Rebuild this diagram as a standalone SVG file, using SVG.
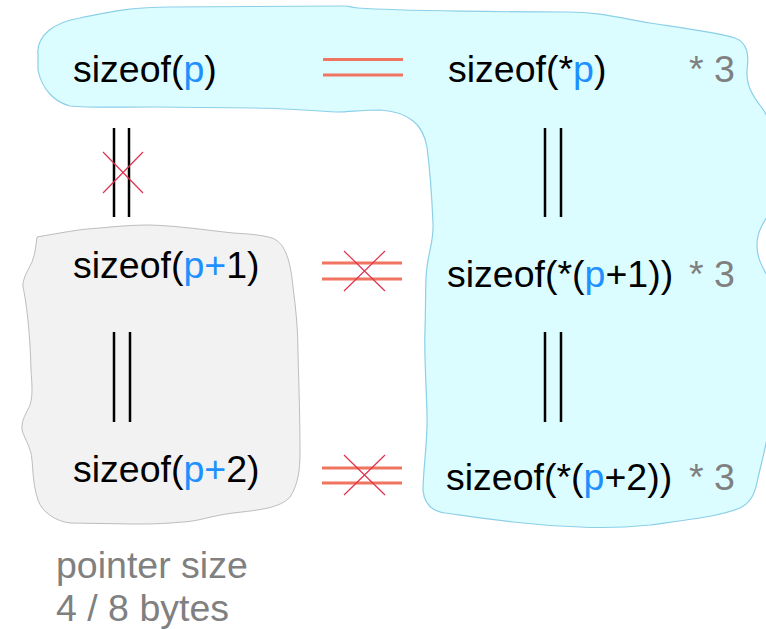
<svg xmlns="http://www.w3.org/2000/svg" width="766" height="629" viewBox="0 0 766 629">
<style>
text{font-family:"Liberation Sans",Arial,sans-serif;font-size:37.5px;fill:#000}
.b{fill:#1e90ff}
.g{fill:#808080}
.eq{stroke:#f07561;stroke-width:3;fill:none}
.vv{stroke:#000;stroke-width:2.5;fill:none}
.x{stroke:#e0304e;stroke-width:1.2;fill:none}
</style>
<rect width="766" height="629" fill="#fff"/>
<g id="region-array">
<path d="M 38,55 C 36,35 55,22 80,18 C 110,12 130,7 170,7 L 345,6 C 350,6 352,8 358,8 C 400,11 520,12 567,12 C 600,12 620,18 650,23 C 690,29 720,33 735,38 C 748,43 749,55 747,70 C 746,85 752,95 762,108 C 770,118 772,130 772,160 L 772,210 C 765,220 757,230 757,245 C 757,262 766,272 772,285 L 772,410 C 768,440 762,460 758,478 C 755,495 750,503 740,508 C 720,516 700,518 650,525 C 620,528 600,528 580,527 C 550,526 530,524 513,522 C 480,518 460,515 445,513 C 430,511 424,502 423,490 C 423,470 428,440 427,413 C 426,380 424,350 425,330 C 426,300 425,280 427,267 C 429,250 434,240 433,223 C 432,200 430,170 427,147 C 423,125 410,112 380,110 C 360,110 350,112 337,112 C 300,110 280,108 253,108 L 153,107 C 120,107 90,108 70,106 C 55,102 42,90 38,70 Z" fill="#dcfdff" stroke="#8ccfe8" stroke-width="1.2"/>
</g>
<g id="region-pointer">
<path d="M 37,237 C 60,233 80,229 100,228 C 120,226 135,225 150,225 C 180,226 205,230 233,233 C 250,234 262,235 272,238 C 283,242 290,255 293,287 C 296,310 298,330 298,353 C 299,390 300,420 300,453 C 300,470 298,485 290,497 C 280,508 260,510 233,513 C 210,516 200,521 183,522 C 160,524 150,524 133,524 L 70,523 C 55,521 42,512 38,500 C 33,485 33,470 32,460 C 31,447 25,440 22,430 C 21,420 27,412 30,405 C 33,395 32,385 31,370 C 30,330 26,300 23,287 C 22,280 28,270 32,262 C 35,255 36,245 37,237 Z" fill="#f2f2f2" stroke="#bdbdbd" stroke-width="1"/>
</g>
<g id="node-sizeof-p"><text x="73" y="82">sizeof(<tspan class="b">p</tspan>)</text></g>
<g id="node-sizeof-deref-p"><text x="448" y="82">sizeof(*<tspan class="b">p</tspan>)</text><text x="689" y="82" class="g">* 3</text></g>
<g id="node-sizeof-p1"><text x="73" y="278">sizeof(<tspan class="b">p+</tspan>1)</text></g>
<g id="node-sizeof-deref-p1"><text x="447" y="287">sizeof(*(<tspan class="b">p</tspan>+1))</text><text x="689" y="287" class="g">* 3</text></g>
<g id="node-sizeof-p2"><text x="73" y="482">sizeof(<tspan class="b">p+</tspan>2)</text></g>
<g id="node-sizeof-deref-p2"><text x="446" y="490">sizeof(*(<tspan class="b">p</tspan>+2))</text><text x="689" y="490" class="g">* 3</text></g>
<g id="note"><text x="56" y="578" class="g">pointer size</text><text x="56" y="621" class="g">4 / 8 bytes</text></g>
<g id="connectors">
<line class="eq" x1="323" y1="59.5" x2="403" y2="59.5"/>
<line class="eq" x1="323" y1="75" x2="403" y2="75"/>
<line class="eq" x1="322" y1="263" x2="402" y2="263"/>
<line class="eq" x1="322" y1="279" x2="402" y2="279"/>
<line class="x" x1="344" y1="251" x2="385" y2="291"/>
<line class="x" x1="385" y1="251" x2="344" y2="291"/>
<line class="eq" x1="322" y1="468" x2="402" y2="468"/>
<line class="eq" x1="322" y1="483" x2="402" y2="483"/>
<line class="x" x1="344" y1="455" x2="385" y2="495"/>
<line class="x" x1="385" y1="455" x2="344" y2="495"/>
<line class="vv" x1="114" y1="128" x2="114" y2="217"/>
<line class="vv" x1="129" y1="128" x2="129" y2="217"/>
<line class="x" x1="103" y1="152" x2="143" y2="193"/>
<line class="x" x1="143" y1="152" x2="103" y2="193"/>
<line class="vv" x1="114" y1="332" x2="114" y2="422"/>
<line class="vv" x1="130" y1="332" x2="130" y2="422"/>
<line class="vv" x1="545" y1="128" x2="545" y2="217"/>
<line class="vv" x1="561" y1="128" x2="561" y2="217"/>
<line class="vv" x1="545" y1="332" x2="545" y2="422"/>
<line class="vv" x1="561" y1="332" x2="561" y2="422"/>
</g>
</svg>
